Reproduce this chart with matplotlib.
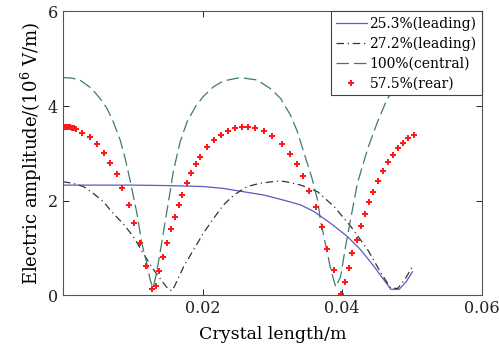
import matplotlib
matplotlib.use('Agg')
import matplotlib.pyplot as plt

# 25.3% (leading)
lead1_x = [0, 0.005, 0.010, 0.015, 0.0201, 0.0230, 0.0259, 0.0288, 0.0317, 0.0341,
           0.0360, 0.0384, 0.0408, 0.0427, 0.0446, 0.0460, 0.0470, 0.0482, 0.0492, 0.0501]
lead1_y = [2.33, 2.33, 2.33, 2.32, 2.30, 2.26, 2.19, 2.12, 2.01, 1.91,
           1.77, 1.52, 1.24, 0.96, 0.61, 0.33, 0.13, 0.13, 0.29, 0.50]

# 27.2% (leading)
lead2_x = [0, 0.0014, 0.0029, 0.0043, 0.0058, 0.0072, 0.0086, 0.0101, 0.0115, 0.0130,
           0.0144, 0.0151, 0.0156, 0.0160, 0.0173, 0.0187, 0.0201, 0.0216, 0.0230, 0.0245,
           0.0264, 0.0283, 0.0310, 0.0320, 0.0341, 0.0365, 0.0389, 0.0413, 0.0437, 0.0456,
           0.0470, 0.0480, 0.0491, 0.0501]
lead2_y = [2.40, 2.37, 2.30, 2.16, 1.98, 1.73, 1.52, 1.24, 0.89, 0.54,
           0.26, 0.13, 0.10, 0.20, 0.61, 0.96, 1.31, 1.63, 1.91, 2.12,
           2.30, 2.37, 2.42, 2.40, 2.33, 2.19, 1.87, 1.45, 0.96, 0.47,
           0.15, 0.15, 0.36, 0.61]

# 100% (central)
cent_x = [0, 0.0012, 0.0024, 0.0041, 0.0053, 0.0063, 0.0072, 0.0082, 0.0089, 0.0096,
          0.0106, 0.0113, 0.0120, 0.0125, 0.0129, 0.0134, 0.0139, 0.0146, 0.0154, 0.0158,
          0.0168, 0.0178, 0.0190, 0.0201, 0.0216, 0.0230, 0.0254, 0.0278, 0.0297, 0.0312,
          0.0326, 0.0336, 0.0345, 0.0357, 0.0365, 0.0369, 0.0377, 0.0384, 0.0391, 0.0398,
          0.0405, 0.0413, 0.0422, 0.0437, 0.0451, 0.0465, 0.0480, 0.0500]
cent_y = [4.60, 4.59, 4.55, 4.37, 4.16, 3.95, 3.67, 3.28, 2.90, 2.44,
          1.73, 1.10, 0.68, 0.33, 0.15, 0.47, 0.89, 1.52, 2.23, 2.61,
          3.25, 3.67, 3.99, 4.20, 4.41, 4.53, 4.60, 4.55, 4.37, 4.16,
          3.81, 3.46, 3.03, 2.47, 2.01, 1.59, 1.03, 0.54, 0.18, 0.40,
          1.03, 1.66, 2.37, 3.11, 3.67, 4.16, 4.42, 4.58]

# 57.5% (rear)
rear_x = [0.0001, 0.0004, 0.0007, 0.0010, 0.0013, 0.0016, 0.0019, 0.0027, 0.0038, 0.0049,
          0.0059, 0.0068, 0.0077, 0.0085, 0.0094, 0.0102, 0.0110, 0.0119, 0.0128, 0.0133,
          0.0138, 0.0144, 0.0149, 0.0155, 0.0160, 0.0166, 0.0171, 0.0178, 0.0184, 0.0190,
          0.0197, 0.0207, 0.0217, 0.0227, 0.0237, 0.0246, 0.0256, 0.0265, 0.0275, 0.0288,
          0.0300, 0.0314, 0.0325, 0.0335, 0.0344, 0.0353, 0.0362, 0.0371, 0.0379, 0.0389,
          0.0398, 0.0404, 0.0410, 0.0415, 0.0422, 0.0427, 0.0433, 0.0438, 0.0445, 0.0451,
          0.0459, 0.0466, 0.0473, 0.0480, 0.0488, 0.0495, 0.0503]
rear_y = [3.56, 3.56, 3.55, 3.55, 3.54, 3.53, 3.52, 3.43, 3.34, 3.20,
          3.00, 2.80, 2.56, 2.27, 1.92, 1.53, 1.10, 0.62, 0.14, 0.20,
          0.51, 0.81, 1.11, 1.40, 1.66, 1.90, 2.12, 2.37, 2.58, 2.77,
          2.93, 3.13, 3.28, 3.39, 3.47, 3.53, 3.56, 3.56, 3.54, 3.47,
          3.37, 3.20, 2.98, 2.77, 2.52, 2.20, 1.86, 1.45, 0.99, 0.54,
          0.04, 0.28, 0.59, 0.90, 1.18, 1.47, 1.72, 1.97, 2.18, 2.42,
          2.63, 2.81, 2.97, 3.12, 3.22, 3.32, 3.38]

xtick_vals = [0.02, 0.04, 0.06]
xtick_labels = ['0.02', '0.04', '0.06']
ytick_vals = [0, 2, 4, 6]

plt.rcParams['font.family'] = 'DejaVu Serif'
plt.rcParams['mathtext.fontset'] = 'dejavuserif'

fig = plt.figure(figsize=(4.99, 3.53), dpi=100)
ax = fig.add_axes([0.1263, 0.163, 0.8387, 0.805])

ax.plot(lead1_x, lead1_y, '-', color='#5a5ac8', lw=0.9, label='25.3%(leading)')
ax.plot(lead2_x, lead2_y, color='#333333', lw=0.9, dashes=[6, 3, 1, 3], label='27.2%(leading)')
ax.plot(cent_x, cent_y, color='#3f7a6a', lw=0.9, dashes=[10, 4], label='100%(central)')
ax.plot(rear_x, rear_y, 'P', color='#ff1a1a', ms=4, mew=0, ls='none', label='57.5%(rear)')

ax.set_xlim(0, 0.06)
ax.set_ylim(0, 6)
ax.set_xticks(xtick_vals)
ax.set_xticklabels(xtick_labels)
ax.set_yticks(ytick_vals)
ax.tick_params(direction='in', top=True, right=True, length=4, width=0.7,
               labelsize=11.5, colors='#222222')
for s in ax.spines.values():
    s.set_color('#555555')
    s.set_linewidth(0.8)

ax.set_xlabel('Crystal length/m', fontsize=12.5, labelpad=6)
ax.set_ylabel(r'Electric amplitude/(10$^6$ V/m)', fontsize=13, labelpad=3)

leg = ax.legend(loc='upper right', fontsize=10, borderaxespad=0, fancybox=False,
                framealpha=1, edgecolor='#444444', handlelength=2.2, handletextpad=0.2,
                labelspacing=0.42, borderpad=0.35, markerscale=1.0)
leg.get_frame().set_linewidth(0.8)

fig.savefig('out.png', dpi=100)
